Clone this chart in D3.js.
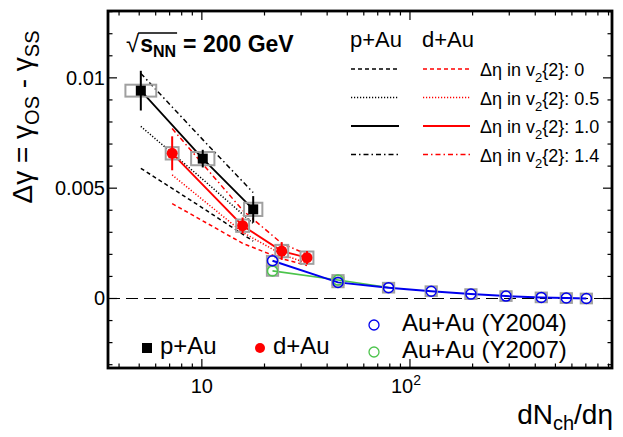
<!DOCTYPE html>
<html lang="en">
<head>
    <meta charset="UTF-8">
    <title>Delta gamma vs dNch/deta</title>
    <script src="https://d3js.org/d3.v7.min.js"></script>
    <style>
        body {margin: 0; background: white;}
        text {font-family: "Liberation Sans", Arial, sans-serif; fill: black;}
    </style>
</head>
<body>
<script>
    const width = 623;
    const height = 437;

    // p+Au points
    const pAuX = [5.09, 10.1, 17.65];
    const pAuY = [0.00942, 0.00634, 0.00404];
    const pAuStat = [0.0009, 0.0004, 0.0006];
    const pAuSysX = [0.074, 0.056, 0.044];   // half width in decades
    const pAuSysY = [0.00027, 0.0003, 0.0003];

    // d+Au points
    const dAuX = [7.2, 15.7, 24.2, 32.0];
    const dAuY = [0.00658, 0.0033, 0.00215, 0.00185];
    const dAuStat = [0.00077, 0.00037, 0.0004, 0.0003];
    const dAuSysX = [0.031, 0.031, 0.031, 0.031];
    const dAuSysY = [0.00028, 0.00028, 0.00028, 0.00028];

    // Au+Au
    const auau04X = [21.85, 45.1, 78.9, 126.5, 196.3, 289.4, 427.6, 564, 704];
    const auau04Y = [0.00171, 0.00073, 0.00049, 0.00033, 0.0002, 0.00011, 0.00005, 0.00002, 0.0];
    const auau07X = [21.85, 45.1, 78.9, 126.5, 196.3, 289.4, 427.6, 564, 704];
    const auau07Y = [0.00125, 0.00084, 0.0005, 0.00033, 0.0002, 0.00011, 0.00005, 0.00002, 0.0];
    const auauSysX = 0.027;
    const auauSysY = 0.00022;

    // expectations for different eta gaps in v2{2}
    const pAuGap0  = [0.0059, 0.0041, 0.0026];
    const pAuGap05 = [0.0078, 0.0054, 0.0034];
    const pAuGap10 = pAuY;
    const pAuGap14 = [0.0102, 0.0072, 0.0048];
    const dAuGap0  = [0.0043, 0.0025, 0.0018, 0.0015];
    const dAuGap05 = [0.0056, 0.0030, 0.0020, 0.0016];
    const dAuGap10 = dAuY;
    const dAuGap14 = [0.0077, 0.0040, 0.0025, 0.0020];

    const gapLabels = ["0", "0.5", "1.0", "1.4"];
    const yTicks = [0, 0.005, 0.01];

    const mLeft = 108, mRight = 612, mTop = 11, mBottom = 368;

    const svg = d3.select("body").append("svg")
            .attr("width", width).attr("height", height);

    const x = d3.scaleLog().domain([3.54, 935]).range([mLeft, mRight]);
    const y = d3.scaleLinear().domain([-0.00315, 0.01303]).range([mBottom, mTop]);

    const dashes = ["4,3", "1.2,1.8", null, "5,3,1.5,3"];

    // ---- frame ticks
    const minorY = d3.range(-3, 14).map(d => d * 0.001);
    const minorX = [];
    [1, 10, 100].forEach(dec => d3.range(1, 10).forEach(k => {
        const v = dec * k;
        if (v >= 3.54 && v <= 935) minorX.push(v);
    }));
    const isMajorY = v => yTicks.some(t => Math.abs(t - v) < 1e-9);
    const isMajorX = v => v === 10 || v === 100;

    const ticks = svg.append("g").attr("stroke", "black").attr("stroke-width", 1.2);
    minorY.forEach(v => {
        const len = isMajorY(v) ? 9 : 4.5;
        ticks.append("line").attr("x1", mLeft).attr("x2", mLeft + len).attr("y1", y(v)).attr("y2", y(v));
        ticks.append("line").attr("x1", mRight).attr("x2", mRight - len).attr("y1", y(v)).attr("y2", y(v));
    });
    minorX.forEach(v => {
        const len = isMajorX(v) ? 9 : 4.5;
        ticks.append("line").attr("x1", x(v)).attr("x2", x(v)).attr("y1", mBottom).attr("y2", mBottom - len);
        ticks.append("line").attr("x1", x(v)).attr("x2", x(v)).attr("y1", mTop).attr("y2", mTop + len);
    });

    // tick labels
    svg.selectAll("text.ylab").data(yTicks).enter().append("text")
            .attr("class", "ylab")
            .attr("x", mLeft - 3).attr("y", d => y(d) + 7)
            .attr("text-anchor", "end").style("font-size", "20px")
            .text(d => d === 0 ? "0" : String(d));

    svg.append("text").attr("x", x(10)).attr("y", 393).attr("text-anchor", "middle")
            .style("font-size", "20px").text("10");
    const t100 = svg.append("text").attr("x", x(100) - 4).attr("y", 393).attr("text-anchor", "middle")
            .style("font-size", "20px");
    t100.append("tspan").text("10");
    t100.append("tspan").attr("dy", -8).style("font-size", "14px").text("2");

    // zero line
    svg.append("line").attr("x1", mLeft).attr("x2", mRight).attr("y1", y(0)).attr("y2", y(0))
            .attr("stroke", "black").attr("stroke-width", 1.2).attr("stroke-dasharray", "12,6");

    // ---- curves
    const line = d3.line().x(d => x(d[0])).y(d => y(d[1]));
    const pAuCurves = [pAuGap0, pAuGap05, pAuGap10, pAuGap14];
    const dAuCurves = [dAuGap0, dAuGap05, dAuGap10, dAuGap14];

    function drawCurve(xs, ys, color, dash, w) {
        svg.append("path")
                .datum(xs.map((v, i) => [v, ys[i]]))
                .attr("d", line)
                .attr("fill", "none")
                .attr("stroke", color)
                .attr("stroke-width", w)
                .attr("stroke-dasharray", dash);
    }
    pAuCurves.forEach((c, i) => drawCurve(pAuX, c, "black", dashes[i], i === 2 ? 1.8 : 1.5));
    dAuCurves.forEach((c, i) => drawCurve(dAuX, c, "#ff0000", dashes[i], i === 2 ? 1.8 : 1.5));

    drawCurve(auau07X.slice(0, 3), auau07Y.slice(0, 3), "#4cc44c", null, 1.6);
    drawCurve(auau04X, auau04Y, "#0000ee", null, 2);

    // ---- systematic boxes
    function sysBoxes(xs, ys, sx, sy) {
        xs.forEach((v, i) => {
            const dx = Array.isArray(sx) ? sx[i] : sx;
            const dy = Array.isArray(sy) ? sy[i] : sy;
            const x0 = x(v / Math.pow(10, dx)), x1 = x(v * Math.pow(10, dx));
            svg.append("rect")
                    .attr("x", x0).attr("y", y(ys[i] + dy))
                    .attr("width", x1 - x0).attr("height", y(ys[i] - dy) - y(ys[i] + dy))
                    .attr("fill", "none").attr("stroke", "#a0a0a0").attr("stroke-width", 2);
        });
    }
    sysBoxes(auau07X.slice(0, 2), auau07Y.slice(0, 2), auauSysX, auauSysY);
    sysBoxes(auau04X, auau04Y, auauSysX, auauSysY);
    sysBoxes(pAuX, pAuY, pAuSysX, pAuSysY);
    sysBoxes(dAuX, dAuY, dAuSysX, dAuSysY);

    // ---- stat errors + markers
    function statBars(xs, ys, es, color) {
        xs.forEach((v, i) => {
            svg.append("line").attr("x1", x(v)).attr("x2", x(v))
                    .attr("y1", y(ys[i] + es[i])).attr("y2", y(ys[i] - es[i]))
                    .attr("stroke", color).attr("stroke-width", 2);
        });
    }
    statBars(pAuX, pAuY, pAuStat, "black");
    statBars(dAuX, dAuY, dAuStat, "#ff0000");

    svg.selectAll("rect.pau").data(pAuX).enter().append("rect")
            .attr("class", "pau")
            .attr("x", d => x(d) - 5).attr("y", (d, i) => y(pAuY[i]) - 5)
            .attr("width", 10).attr("height", 10).attr("fill", "black");

    svg.selectAll("circle.dau").data(dAuX).enter().append("circle")
            .attr("class", "dau")
            .attr("cx", d => x(d)).attr("cy", (d, i) => y(dAuY[i])).attr("r", 5.5)
            .attr("fill", "#ff0000");

    svg.selectAll("circle.au07").data(auau07X.slice(0, 2)).enter().append("circle")
            .attr("class", "au07")
            .attr("cx", d => x(d)).attr("cy", (d, i) => y(auau07Y[i])).attr("r", 5)
            .attr("fill", "none").attr("stroke", "#4cc44c").attr("stroke-width", 1.5);

    svg.selectAll("circle.au04").data(auau04X).enter().append("circle")
            .attr("class", "au04")
            .attr("cx", d => x(d)).attr("cy", (d, i) => y(auau04Y[i])).attr("r", 5)
            .attr("fill", "none").attr("stroke", "#0000ee").attr("stroke-width", 1.5);

    // ---- frame
    svg.append("rect").attr("x", mLeft).attr("y", mTop)
            .attr("width", mRight - mLeft).attr("height", mBottom - mTop)
            .attr("fill", "none").attr("stroke", "black").attr("stroke-width", 2.8);

    // ---- axis titles
    const yt = svg.append("text")
            .attr("transform", "translate(32,117) rotate(-90)")
            .attr("text-anchor", "middle").style("font-size", "28px");
    yt.append("tspan").text("\u0394\u03b3 = \u03b3");
    yt.append("tspan").attr("dy", 7).style("font-size", "20px").text("OS");
    yt.append("tspan").attr("dy", -7).text(" - \u03b3");
    yt.append("tspan").attr("dy", 7).style("font-size", "20px").text("SS");

    const xt = svg.append("text").attr("x", 613).attr("y", 424)
            .attr("text-anchor", "end").style("font-size", "28px");
    xt.append("tspan").text("dN");
    xt.append("tspan").attr("dy", 6).style("font-size", "20px").text("ch");
    xt.append("tspan").attr("dy", -6).text("/d\u03b7");

    // ---- sqrt(sNN) label
    const root = svg.append("text").attr("x", 126).attr("y", 52)
            .style("font-size", "24px").text("\u221a");
    const rw = root.node().getComputedTextLength();
    const sNN = svg.append("text").attr("x", 126 + rw + 1).attr("y", 52)
            .style("font-size", "23px").style("font-weight", "bold");
    sNN.append("tspan").text("s");
    sNN.append("tspan").attr("dy", 5).style("font-size", "16px").text("NN");
    const sw = sNN.node().getComputedTextLength();
    svg.append("line").attr("x1", 126 + rw - 1).attr("x2", 126 + rw + sw + 2)
            .attr("y1", 33).attr("y2", 33).attr("stroke", "black").attr("stroke-width", 1.3);
    svg.append("text").attr("x", 126 + rw + sw + 8).attr("y", 52)
            .style("font-size", "23px").style("font-weight", "bold").text("= 200 GeV");

    // ---- curve legend
    svg.append("text").attr("x", 350).attr("y", 47).style("font-size", "22px").text("p+Au");
    svg.append("text").attr("x", 422).attr("y", 47).style("font-size", "22px").text("d+Au");
    const rowY = [69, 97.5, 126, 154.5];
    gapLabels.forEach((g, i) => {
        svg.append("line").attr("x1", 351).attr("x2", 399).attr("y1", rowY[i]).attr("y2", rowY[i])
                .attr("stroke", "black").attr("stroke-width", i === 2 ? 1.8 : 1.5)
                .attr("stroke-dasharray", dashes[i]);
        svg.append("line").attr("x1", 423).attr("x2", 470).attr("y1", rowY[i]).attr("y2", rowY[i])
                .attr("stroke", "#ff0000").attr("stroke-width", i === 2 ? 1.8 : 1.5)
                .attr("stroke-dasharray", dashes[i]);
        const t = svg.append("text").attr("x", 480).attr("y", rowY[i] + 7).style("font-size", "18px");
        t.append("tspan").text("\u0394\u03b7 in v");
        t.append("tspan").attr("dy", 6).style("font-size", "13px").text("2");
        t.append("tspan").attr("dy", -6).text("{2}: " + g);
    });

    // ---- marker legend
    svg.append("rect").attr("x", 142).attr("y", 343).attr("width", 10).attr("height", 10).attr("fill", "black");
    svg.append("text").attr("x", 160).attr("y", 354).style("font-size", "24px").text("p+Au");
    svg.append("circle").attr("cx", 260).attr("cy", 348).attr("r", 5).attr("fill", "#ff0000");
    svg.append("text").attr("x", 273).attr("y", 354).style("font-size", "24px").text("d+Au");
    svg.append("circle").attr("cx", 374).attr("cy", 325).attr("r", 5)
            .attr("fill", "none").attr("stroke", "#0000ee").attr("stroke-width", 1.3);
    svg.append("text").attr("x", 402).attr("y", 331).style("font-size", "24px").text("Au+Au (Y2004)");
    svg.append("circle").attr("cx", 374).attr("cy", 352).attr("r", 5)
            .attr("fill", "none").attr("stroke", "#4cc44c").attr("stroke-width", 1.3);
    svg.append("text").attr("x", 402).attr("y", 358).style("font-size", "24px").text("Au+Au (Y2007)");
</script>
</body>
</html>
